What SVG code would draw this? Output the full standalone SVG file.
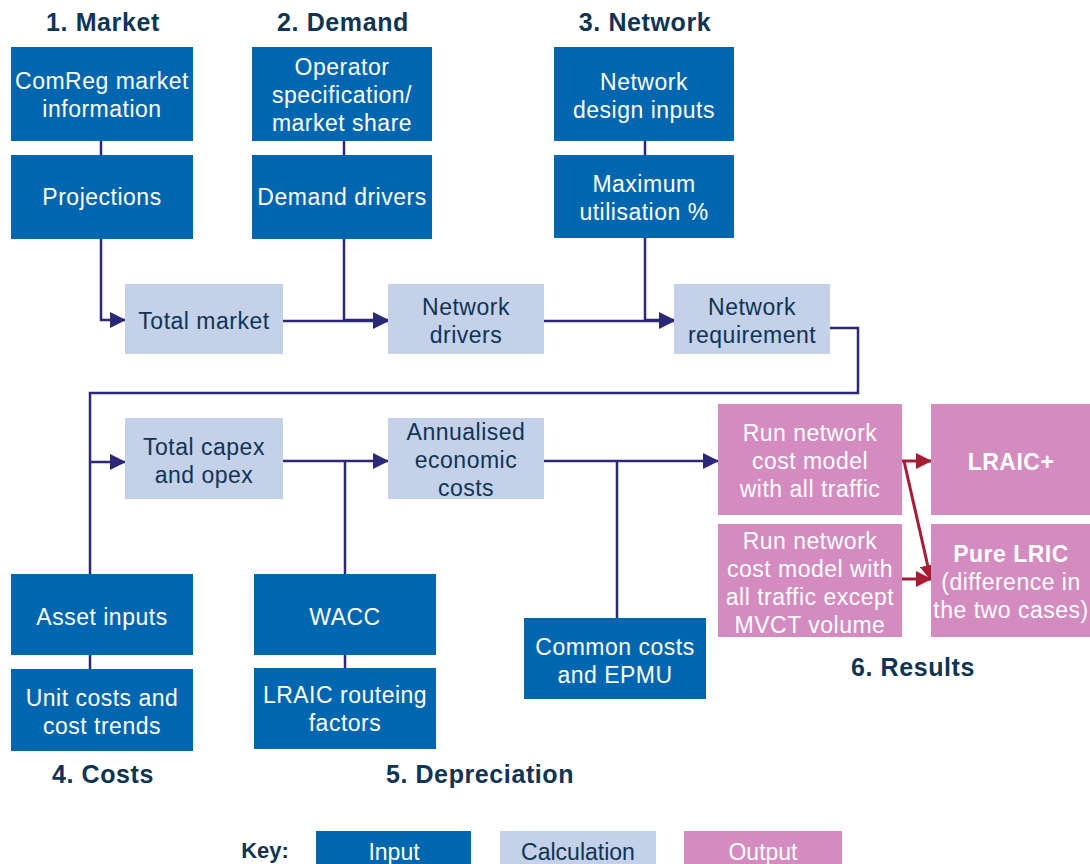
<svg xmlns="http://www.w3.org/2000/svg" width="1090" height="864" viewBox="0 0 1090 864">
<defs>
<style>
text{font-family:"Liberation Sans",Arial,sans-serif;font-size:23px;letter-spacing:0.5px;text-anchor:middle}
.title{font-weight:bold;font-size:25px;letter-spacing:0.6px;fill:#0F3454}
.in rect{fill:#0066B0}
.in text{fill:#ffffff}
.calc rect{fill:#C5D0E9}
.calc text{fill:#0F3454}
.out rect{fill:#D48BBF}
.out text{fill:#ffffff}
.b{font-weight:bold}
.c{fill:none;stroke:#2C2878;stroke-width:2.5}
.r{fill:none;stroke:#A61C35;stroke-width:3}
</style>
<marker id="ah" markerUnits="userSpaceOnUse" markerWidth="16" markerHeight="16" refX="15" refY="8" orient="auto"><path d="M0,0 L16,8 L0,16 z" fill="#2C2878"/></marker>
<marker id="rh" markerUnits="userSpaceOnUse" markerWidth="16" markerHeight="16" refX="15" refY="8" orient="auto"><path d="M0,0 L16,8 L0,16 z" fill="#A61C35"/></marker>
</defs>
<rect width="1090" height="864" fill="#ffffff"/>

<g id="titles">
<text class="title" x="103" y="31">1. Market</text>
<text class="title" x="343" y="31">2. Demand</text>
<text class="title" x="645" y="31">3. Network</text>
<text class="title" x="103" y="783">4. Costs</text>
<text class="title" x="480" y="783">5. Depreciation</text>
<text class="title" x="913" y="676">6. Results</text>
</g>

<g id="connectors">
<path class="c" d="M101,141 V155"/>
<path class="c" d="M101,239 V320 H125" marker-end="url(#ah)"/>
<path class="c" d="M344,141 V155"/>
<path class="c" d="M344,239 V320 H388" marker-end="url(#ah)"/>
<path class="c" d="M283,321 H388" marker-end="url(#ah)"/>
<path class="c" d="M645,141 V155"/>
<path class="c" d="M645,238 V320 H674" marker-end="url(#ah)"/>
<path class="c" d="M544,321 H674" marker-end="url(#ah)"/>
<path class="c" d="M830,328 H858 V393 H90 V574"/>
<path class="c" d="M90,462 H125" marker-end="url(#ah)"/>
<path class="c" d="M90,655 V669"/>
<path class="c" d="M283,461 H388" marker-end="url(#ah)"/>
<path class="c" d="M345,574 V461"/>
<path class="c" d="M345,655 V668"/>
<path class="c" d="M544,461 H718" marker-end="url(#ah)"/>
<path class="c" d="M617,618 V461"/>
<path class="r" d="M902,461 H931" marker-end="url(#rh)"/>
<path class="r" d="M904,461 L931,580" marker-end="url(#rh)"/>
<path class="r" d="M902,579 H931" marker-end="url(#rh)"/>
</g>

<g id="comreg" class="in"><rect x="11" y="47" width="182" height="94"/><text x="102" y="89">ComReg market</text><text x="102" y="117">information</text></g>
<g id="projections" class="in"><rect x="11" y="155" width="182" height="84"/><text x="102" y="205">Projections</text></g>
<g id="operator" class="in"><rect x="252" y="47" width="180" height="94"/><text x="342" y="75">Operator</text><text x="342" y="103">specification/</text><text x="342" y="131">market share</text></g>
<g id="demand-drivers" class="in"><rect x="252" y="155" width="180" height="84"/><text x="342" y="205">Demand drivers</text></g>
<g id="network-design" class="in"><rect x="554" y="47" width="180" height="94"/><text x="644" y="90">Network</text><text x="644" y="118">design inputs</text></g>
<g id="max-util" class="in"><rect x="554" y="155" width="180" height="83"/><text x="644" y="192">Maximum</text><text x="644" y="220">utilisation %</text></g>

<g id="total-market" class="calc"><rect x="125" y="284" width="158" height="70"/><text x="204" y="329">Total market</text></g>
<g id="network-drivers" class="calc"><rect x="388" y="284" width="156" height="70"/><text x="466" y="315">Network</text><text x="466" y="343">drivers</text></g>
<g id="network-req" class="calc"><rect x="674" y="284" width="156" height="70"/><text x="752" y="315">Network</text><text x="752" y="343">requirement</text></g>
<g id="total-capex" class="calc"><rect x="125" y="418" width="158" height="81"/><text x="204" y="455">Total capex</text><text x="204" y="483">and opex</text></g>
<g id="annualised" class="calc"><rect x="388" y="418" width="156" height="81"/><text x="466" y="440">Annualised</text><text x="466" y="468">economic</text><text x="466" y="496">costs</text></g>

<g id="run-all" class="out"><rect x="718" y="404" width="184" height="111"/><text x="810" y="441">Run network</text><text x="810" y="469">cost model</text><text x="810" y="497">with all traffic</text></g>
<g id="lraic-plus" class="out"><rect x="931" y="404" width="159" height="111"/><text class="b" x="1011" y="470">LRAIC+</text></g>
<g id="run-except" class="out"><rect x="718" y="524" width="184" height="113"/><text x="810" y="549">Run network</text><text x="810" y="577">cost model with</text><text x="810" y="605">all traffic except</text><text x="810" y="633">MVCT volume</text></g>
<g id="pure-lric" class="out"><rect x="931" y="524" width="159" height="113"/><text class="b" x="1011" y="562">Pure LRIC</text><text x="1011" y="590">(difference in</text><text x="1011" y="618">the two cases)</text></g>

<g id="asset-inputs" class="in"><rect x="11" y="574" width="182" height="81"/><text x="102" y="625">Asset inputs</text></g>
<g id="unit-costs" class="in"><rect x="11" y="669" width="182" height="82"/><text x="102" y="706">Unit costs and</text><text x="102" y="734">cost trends</text></g>
<g id="wacc" class="in"><rect x="254" y="574" width="182" height="81"/><text x="345" y="625">WACC</text></g>
<g id="routeing" class="in"><rect x="254" y="668" width="182" height="81"/><text x="345" y="703">LRAIC routeing</text><text x="345" y="731">factors</text></g>
<g id="common-costs" class="in"><rect x="524" y="618" width="182" height="81"/><text x="615" y="655">Common costs</text><text x="615" y="683">and EPMU</text></g>

<g id="key">
<text class="title" x="265" y="858" style="font-size:22px;letter-spacing:0">Key:</text>
<g class="in"><rect x="316" y="831" width="155" height="33"/><text x="394" y="860" style="letter-spacing:0">Input</text></g>
<g class="calc"><rect x="500" y="831" width="156" height="33"/><text x="578" y="860" style="letter-spacing:0">Calculation</text></g>
<g class="out"><rect x="684" y="831" width="158" height="33"/><text x="763" y="860" style="letter-spacing:0">Output</text></g>
</g>
</svg>
